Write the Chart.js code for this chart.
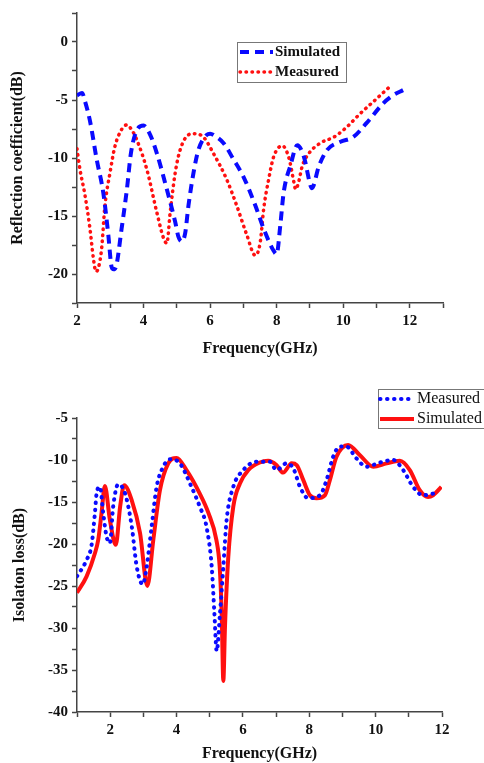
<!DOCTYPE html>
<html>
<head>
<meta charset="utf-8">
<script src="https://cdn.jsdelivr.net/npm/chart.js@4"></script>
<style>
  body { margin: 0; background: #fff; }
  .box { position: absolute; left: 0; width: 484px; }
  #topBox { top: 0; height: 370px; }
  #botBox { top: 380px; height: 383px; }
</style>
</head>
<body>
<div class="box" id="topBox"><canvas id="reflChart"></canvas></div>
<div class="box" id="botBox"><canvas id="isoChart"></canvas></div>
<script>
// Reflection coefficient (top chart)
const reflSimFreq = [2.0, 2.15, 2.25, 2.39, 2.59, 2.79, 2.94, 3.04, 3.1, 3.17, 3.34, 3.5, 3.62, 3.8, 4.0, 4.2, 4.4, 4.7, 4.95, 5.05, 5.15, 5.25, 5.35, 5.5, 5.65, 5.9, 6.0, 6.15, 6.4, 6.7, 7.0, 7.36, 7.61, 7.91, 8.0, 8.11, 8.21, 8.42, 8.62, 8.82, 9.02, 9.06, 9.27, 9.52, 9.92, 10.3, 10.7, 11.2, 11.5, 11.8];
const reflSimDb   = [-4.6, -4.4, -5.2, -6.8, -10.1, -13.0, -16.6, -19.4, -19.6, -19.4, -16.1, -12.7, -9.6, -7.6, -7.2, -8.0, -9.6, -12.7, -15.5, -16.8, -17.2, -16.5, -14.1, -11.3, -9.3, -8.0, -7.9, -8.1, -8.7, -10.1, -11.6, -14.1, -16.1, -18.0, -18.3, -15.8, -13.0, -10.6, -8.9, -9.9, -12.4, -12.6, -10.7, -9.3, -8.6, -8.2, -7.0, -5.3, -4.6, -4.15];
const reflMeasFreq = [2.0, 2.09, 2.24, 2.39, 2.49, 2.57, 2.65, 2.74, 2.84, 2.99, 3.14, 3.35, 3.5, 3.65, 3.8, 4.1, 4.4, 4.6, 4.7, 4.8, 4.95, 5.1, 5.35, 5.5, 5.8, 6.1, 6.5, 6.8, 7.1, 7.36, 7.51, 7.61, 7.76, 7.91, 8.17, 8.37, 8.52, 8.57, 8.65, 8.77, 8.97, 9.32, 9.72, 10.12, 10.5, 11.0, 11.38];
const reflMeasDb   = [-9.2, -11.0, -13.2, -16.1, -18.6, -19.8, -19.4, -17.8, -14.1, -11.3, -9.0, -7.5, -7.15, -7.6, -8.45, -11.0, -14.7, -16.9, -17.35, -14.7, -11.3, -9.3, -8.0, -7.9, -8.2, -9.6, -11.85, -14.1, -16.6, -18.4, -17.2, -14.4, -11.85, -9.9, -8.95, -10.0, -12.1, -12.7, -12.2, -10.7, -9.6, -8.7, -8.2, -7.3, -6.2, -4.9, -3.9];

// Isolation loss (bottom chart)
const isoMeasFreq = [1.0, 1.29, 1.44, 1.54, 1.59, 1.69, 1.79, 1.89, 1.99, 2.09, 2.24, 2.45, 2.65, 2.8, 2.98, 3.1, 3.25, 3.4, 3.6, 3.8, 4.1, 4.45, 4.7, 4.9, 5.06, 5.14, 5.21, 5.31, 5.41, 5.51, 5.71, 6.01, 6.41, 6.81, 7.01, 7.31, 7.52, 7.72, 7.97, 8.32, 8.52, 8.72, 8.92, 9.12, 9.42, 9.72, 10.13, 10.53, 10.83, 11.13, 11.43, 11.73];
const isoMeasDb   = [-23.85, -21.9, -20.1, -16.3, -14.0, -13.2, -16.3, -19.1, -19.9, -15.55, -12.9, -14.0, -17.9, -22.7, -24.8, -22.7, -17.9, -13.2, -10.8, -9.9, -10.4, -13.2, -15.55, -17.9, -22.7, -28.2, -32.75, -28.2, -22.7, -17.1, -13.2, -11.2, -10.2, -10.2, -11.2, -10.4, -11.0, -13.2, -14.55, -14.2, -12.4, -9.6, -8.4, -8.4, -9.8, -10.8, -10.3, -10.0, -11.2, -13.2, -14.2, -14.0];
const isoSimFreq = [1.0, 1.29, 1.54, 1.64, 1.74, 1.84, 1.99, 2.17, 2.3, 2.42, 2.65, 2.9, 3.12, 3.3, 3.5, 3.75, 4.0, 4.3, 4.7, 4.96, 5.2, 5.3, 5.36, 5.41, 5.46, 5.56, 5.71, 5.91, 6.16, 6.51, 6.76, 7.01, 7.21, 7.47, 7.62, 7.82, 8.02, 8.22, 8.47, 8.62, 8.82, 9.17, 9.52, 9.93, 10.33, 10.73, 11.03, 11.33, 11.58, 11.73, 11.98];
const isoSimDb   = [-25.8, -23.85, -21.1, -19.5, -16.3, -13.1, -17.1, -20.1, -15.55, -13.0, -14.8, -18.7, -25.0, -19.5, -13.6, -10.4, -9.75, -11.2, -14.0, -16.3, -19.5, -22.7, -28.2, -36.3, -29.8, -21.5, -15.55, -12.8, -11.2, -10.3, -10.1, -10.6, -11.5, -10.4, -10.6, -12.4, -14.2, -14.55, -14.2, -12.4, -9.6, -8.2, -9.4, -10.8, -10.4, -10.1, -11.2, -13.6, -14.4, -14.2, -13.2];

const BLUE = '#0a0aff';
const RED = '#ff1010';
const AXIS = '#444';
const SERIF = "'Liberation Serif', 'Times New Roman', serif";

function pts(xs, ys) {
    return xs.map((x, i) => ({ x: x, y: ys[i] }));
}

// legend drawn as a framed box, like the original plot
const boxLegend = {
    id: 'boxLegend',
    afterDraw(chart, args, opts) {
        const ctx = chart.ctx;
        ctx.save();
        ctx.strokeStyle = '#777';
        ctx.lineWidth = 1;
        ctx.strokeRect(opts.x + 0.5, opts.y + 0.5, opts.w, opts.h);
        ctx.font = opts.font;
        ctx.textBaseline = 'middle';
        ctx.fillStyle = '#111';
        chart.data.datasets.forEach((ds, i) => {
            const y = opts.y + opts.rowY[i];
            ctx.beginPath();
            ctx.strokeStyle = ds.borderColor;
            ctx.lineWidth = ds.borderWidth;
            ctx.lineCap = ds.borderCapStyle || 'butt';
            ctx.setLineDash(ds.borderDash || []);
            ctx.moveTo(opts.x + opts.lineX0, y);
            ctx.lineTo(opts.x + opts.lineX1, y);
            ctx.stroke();
            ctx.setLineDash([]);
            ctx.fillText(ds.label, opts.x + opts.textX, y);
        });
        ctx.restore();
    }
};

function axisOpts(min, max, step, labelEvery, title, size, titlePad, fit) {
    return {
        type: 'linear',
        min: min,
        max: max,
        afterFit: fit,
        border: { display: true, color: AXIS, width: 1.5 },
        grid: { display: true, drawOnChartArea: false, drawTicks: true, tickLength: 5, tickColor: AXIS, tickWidth: 1.5 },
        ticks: {
            stepSize: step,
            autoSkip: false,
            maxRotation: 0,
            color: '#111',
            padding: 4,
            font: { family: SERIF, size: 15, weight: 'bold' },
            callback: function(v) {
                const r = Math.round(v / labelEvery) * labelEvery;
                return Math.abs(v - r) < 1e-6 ? String(r) : '';
            }
        },
        title: {
            display: true,
            text: title,
            color: '#111',
            padding: titlePad,
            font: { family: SERIF, size: size, weight: 'bold' }
        }
    };
}

// Top: reflection coefficient
new Chart(document.getElementById('reflChart'), {
    type: 'line',
    data: {
        datasets: [{
            label: 'Simulated',
            data: pts(reflSimFreq, reflSimDb),
            borderColor: BLUE,
            borderWidth: 4,
            borderDash: [9, 6],
            cubicInterpolationMode: 'monotone',
            pointRadius: 0
        }, {
            label: 'Measured',
            data: pts(reflMeasFreq, reflMeasDb),
            borderColor: RED,
            borderWidth: 3.5,
            borderDash: [0.5, 5.5],
            borderCapStyle: 'round',
            cubicInterpolationMode: 'monotone',
            pointRadius: 0
        }]
    },
    options: {
        responsive: true,
        maintainAspectRatio: false,
        animation: false,
        layout: { padding: { left: 0, top: 8, right: 41, bottom: 0 } },
        plugins: {
            legend: { display: false },
            tooltip: { enabled: false },
            boxLegend: {
                x: 237, y: 42, w: 109, h: 40,
                font: "bold 15px " + SERIF,
                rowY: [10, 30], lineX0: 3, lineX1: 36, textX: 38
            }
        },
        scales: {
            x: axisOpts(2, 13, 1, 2, 'Frequency(GHz)', 16, { top: 0, bottom: 12 }, s => { s.height = 67; }),
            y: axisOpts(-22.5, 2.5, 2.5, 5, 'Reflection coefficient(dB)', 16, { top: 8, bottom: 0 }, s => { s.width = 77; })
        }
    },
    plugins: [boxLegend]
});

// Bottom: isolation loss
new Chart(document.getElementById('isoChart'), {
    type: 'line',
    data: {
        datasets: [{
            label: 'Measured',
            data: pts(isoMeasFreq, isoMeasDb),
            borderColor: BLUE,
            borderWidth: 4,
            borderDash: [0.5, 6.5],
            borderCapStyle: 'round',
            cubicInterpolationMode: 'monotone',
            pointRadius: 0
        }, {
            label: 'Simulated',
            data: pts(isoSimFreq, isoSimDb),
            borderColor: RED,
            borderWidth: 4,
            cubicInterpolationMode: 'monotone',
            pointRadius: 0
        }]
    },
    options: {
        responsive: true,
        maintainAspectRatio: false,
        animation: false,
        layout: { padding: { left: 0, top: 38, right: 42, bottom: 0 } },
        plugins: {
            legend: { display: false },
            tooltip: { enabled: false },
            boxLegend: {
                x: 378, y: 9, w: 120, h: 39,
                font: "16px " + SERIF,
                rowY: [10, 30], lineX0: 2, lineX1: 36, textX: 39
            }
        },
        scales: {
            x: axisOpts(1, 12, 1, 2, 'Frequency(GHz)', 16, { top: 0, bottom: 0 }, s => { s.height = 51; }),
            y: axisOpts(-40, -5, 2.5, 5, 'Isolaton loss(dB)', 16, { top: 10, bottom: 0 }, s => { s.width = 77; })
        }
    },
    plugins: [boxLegend]
});
</script>
</body>
</html>
